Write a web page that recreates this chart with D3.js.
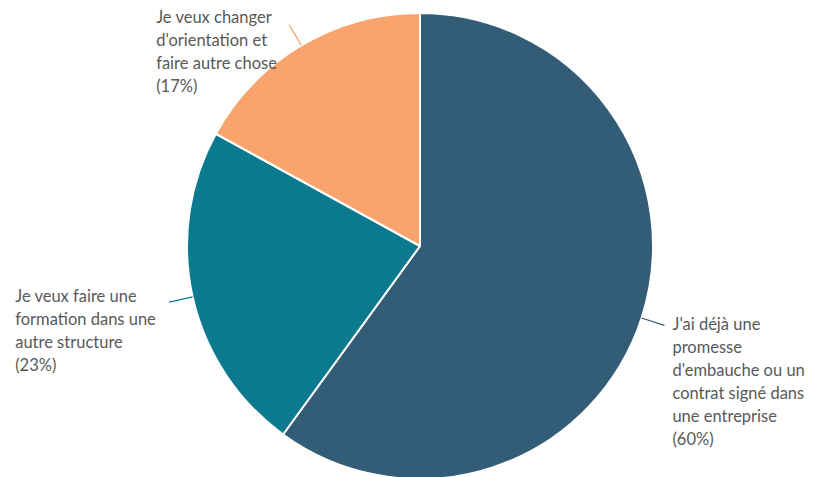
<!DOCTYPE html>
<html>
<head>
<meta charset="utf-8">
<script src="https://cdn.jsdelivr.net/npm/d3@7"></script>
<style>
  html, body { margin: 0; padding: 0; background: #fff; }
  svg text { font-family: Lato, "Open Sans", sans-serif; fill: #595959; }
</style>
</head>
<body>
<svg id="chart" width="813" height="477"></svg>
<script>
// Survey answers, clockwise from 12 o'clock
const categories = [
  "J'ai déjà une promesse d'embauche ou un contrat signé dans une entreprise",
  "Je veux faire une formation dans une autre structure",
  "Je veux changer d'orientation et faire autre chose"
];
const shares = [60, 23, 17];
const labelLines = [
  ["J'ai déjà une", "promesse", "d'embauche ou un", "contrat signé dans", "une entreprise"],
  ["Je veux faire une", "formation dans une", "autre structure"],
  ["Je veux changer", "d'orientation et", "faire autre chose"]
];
const colors = ["#335c77", "#0b7a8f", "#f9a46d"];

const svg = d3.select("#chart");
const cx = 420, cy = 246, radius = 233, leader = 24, lineH = 23;

const pie = d3.pie().sort(null).value(d => d)(shares);
const arc = d3.arc().innerRadius(0).outerRadius(radius);

const g = svg.append("g").attr("transform", `translate(${cx},${cy})`);

g.selectAll("path.slice")
  .data(pie)
  .join("path")
  .attr("class", "slice")
  .attr("d", arc)
  .attr("fill", (d, i) => colors[i])
  .attr("stroke", "#fff")
  .attr("stroke-width", 2)
  .attr("stroke-linejoin", "round");

// Radial leader lines from the rim at each slice's middle angle
const polar = (a, r) => [r * Math.sin(a), -r * Math.cos(a)];
const mid = d => (d.startAngle + d.endAngle) / 2;

g.selectAll("line.leader")
  .data(pie)
  .join("line")
  .attr("class", "leader")
  .attr("x1", d => polar(mid(d), radius)[0])
  .attr("y1", d => polar(mid(d), radius)[1])
  .attr("x2", d => polar(mid(d), radius + leader)[0])
  .attr("y2", d => polar(mid(d), radius + leader)[1])
  .attr("stroke", (d, i) => colors[i])
  .attr("stroke-width", 1.3);

// Label block placement relative to the leader end: [dx, dy of first baseline]
const labelOffset = [[8, 0], [-154, -5], [-133, -7]];

g.selectAll("text.label")
  .data(pie)
  .join("text")
  .attr("class", "label")
  .attr("font-size", 16.5)
  .each(function (d, i) {
    const [ex, ey] = polar(mid(d), radius + leader);
    const lines = labelLines[i].concat([`(${shares[i]}%)`]);
    const t = d3.select(this);
    lines.forEach((ln, k) => {
      t.append("tspan")
        .attr("x", ex + labelOffset[i][0])
        .attr("y", ey + labelOffset[i][1] + 5 + k * lineH)
        .text(ln);
    });
  });
</script>
</body>
</html>
